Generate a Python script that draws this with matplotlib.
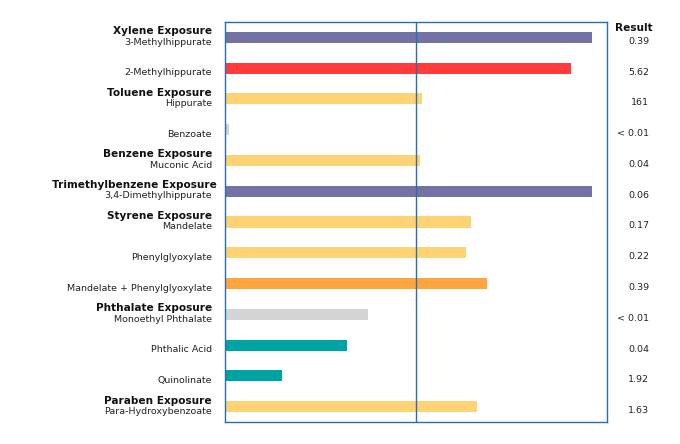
import matplotlib.pyplot as plt
from matplotlib.transforms import blended_transform_factory

# compounds (one bar each), top to bottom
compounds = ['3-Methylhippurate', '2-Methylhippurate', 'Hippurate', 'Benzoate',
             'Muconic Acid', '3,4-Dimethylhippurate', 'Mandelate', 'Phenylglyoxylate',
             'Mandelate + Phenylglyoxylate', 'Monoethyl Phthalate', 'Phthalic Acid',
             'Quinolinate', 'Para-Hydroxybenzoate']
# group headers shown above the first compound of each group
groups = ['Xylene Exposure', '', 'Toluene Exposure', '', 'Benzene Exposure',
          'Trimethylbenzene Exposure', 'Styrene Exposure', '', '', 'Phthalate Exposure',
          '', '', 'Paraben Exposure']
results = ['0.39', '5.62', '161', '< 0.01', '0.04', '0.06', '0.17', '0.22', '0.39',
           '< 0.01', '0.04', '1.92', '1.63']
# bar length relative to reference line (1.0 = middle line)
scores = [1.92, 1.81, 1.03, 0.02, 1.02, 1.92, 1.29, 1.26, 1.37, 0.75, 0.64, 0.30, 1.32]
colors = ['#7472a4', '#ff3b3b', '#ffd374', '#d4d4d4', '#ffd374', '#7472a4', '#ffd374',
          '#ffd374', '#ffa53d', '#d4d4d4', '#00a3a3', '#00a3a3', '#ffd374']

fig = plt.figure(figsize=(6.8, 4.44), dpi=100)
ax = fig.add_axes([225/680, 22/444, 382/680, 400/444])

y = list(range(len(compounds)))
ax.barh(y, scores, height=0.36, color=colors)
ax.set_xlim(0, 2)
ax.set_ylim(len(compounds) - 0.5, -0.5)
ax.axvline(1, color='#2a6fad', lw=1)
for s in ax.spines.values():
    s.set_color('#2a6fad')
    s.set_linewidth(1)
ax.set_xticks([])
ax.set_yticks([])

tr = blended_transform_factory(ax.transAxes, ax.transData)
for i in y:
    ax.text(-0.034, i + 0.235, compounds[i], transform=tr, ha='right', va='baseline',
            fontsize=6.8, color='#222222')
    if groups[i]:
        xg = -0.021 if groups[i].startswith('Trimethyl') else -0.034
        ax.text(xg, i - 0.1, groups[i], transform=tr, ha='right', va='baseline',
                fontsize=7.6, fontweight='bold', color='#111111')
    ax.text(1.11, i + 0.21, results[i], transform=tr, ha='right', va='baseline',
            fontsize=6.8, color='#222222')
ax.text(1.069, -0.21, 'Result', transform=tr, ha='center', va='baseline',
        fontsize=7.6, fontweight='bold', color='#111111')

plt.savefig('out.png', dpi=100)
plt.close()
